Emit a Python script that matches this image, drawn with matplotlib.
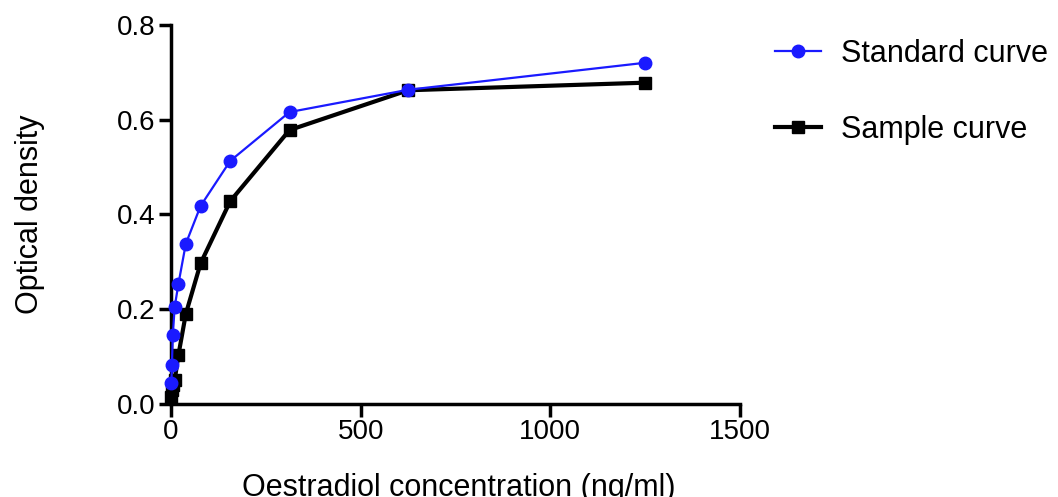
import matplotlib.pyplot as plt

plt.rcParams['font.family'] = ['Liberation Sans', 'DejaVu Sans']

conc = [1.22, 2.44, 4.88, 9.77, 19.53, 39.06, 78.13, 156.25, 312.5, 625, 1250]
standard = [0.044, 0.082, 0.146, 0.205, 0.253, 0.338, 0.418, 0.513, 0.616, 0.663, 0.720]
sample = [0.015, 0.030, 0.040, 0.050, 0.103, 0.190, 0.297, 0.428, 0.578, 0.662, 0.678]

fig = plt.figure(figsize=(10.58, 4.97), dpi=100)
ax = fig.add_axes([0.1616, 0.187, 0.5378, 0.763])

ax.plot(conc, standard, color='#1a1aff', lw=1.6, marker='o', ms=9,
        label='Standard curve', clip_on=False, zorder=3)
ax.plot(conc, sample, color='black', lw=3, marker='s', ms=8,
        label='Sample curve', clip_on=False, zorder=2)

ax.set_xlim(0, 1500)
ax.set_ylim(0, 0.8)
ax.set_xticks([0, 500, 1000, 1500])
ax.set_yticks([0.0, 0.2, 0.4, 0.6, 0.8])
ax.set_yticklabels(['0.0', '0.2', '0.4', '0.6', '0.8'])

for s in ['top', 'right']:
    ax.spines[s].set_visible(False)
for s in ['left', 'bottom']:
    ax.spines[s].set_linewidth(2.5)
ax.tick_params(width=2.5, length=9, labelsize=20, direction='out', pad=2)

ax.set_xlabel('Oestradiol concentration (ng/ml)', fontsize=22)
ax.set_ylabel('Optical density', fontsize=22)
ax.xaxis.set_label_coords(0.505, -0.182)
ax.yaxis.set_label_coords(-0.222, 0.5)

fig.legend(loc='upper left', bbox_to_anchor=(0.7325, 0.922), frameon=False,
           fontsize=22, handlelength=1.5, labelspacing=1.5, handletextpad=0.65,
           borderpad=0, borderaxespad=0)

fig.savefig('out.png', dpi=100)
